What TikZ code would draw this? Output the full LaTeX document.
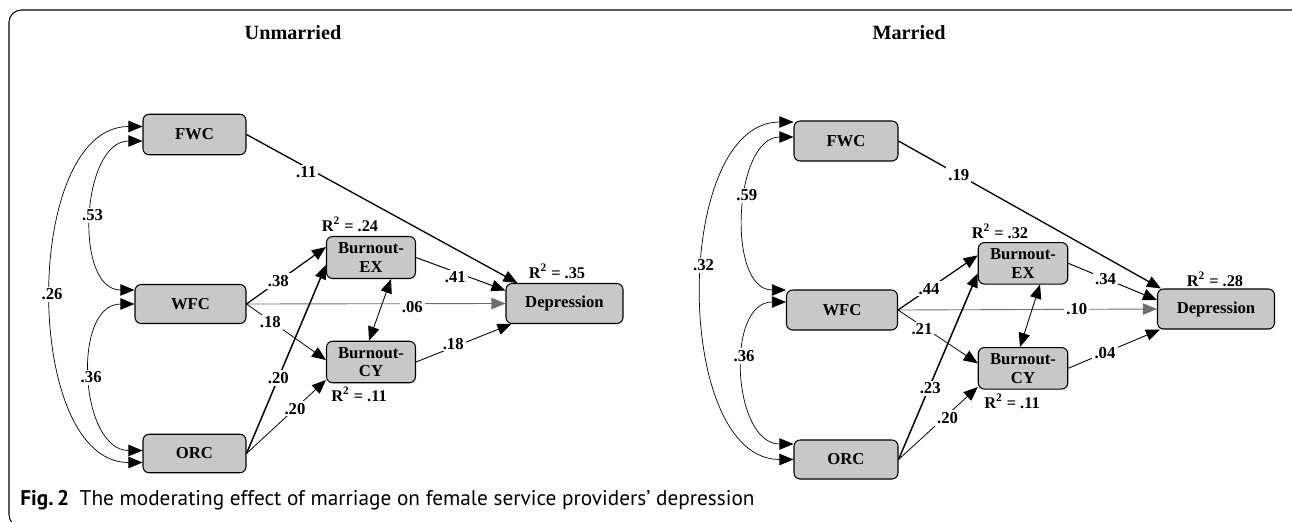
\documentclass[tikz,border=0pt]{standalone}
\usepackage{fontspec}
\setmainfont{Liberation Serif}
\newfontfamily\capfont{PT Sans}
\usetikzlibrary{arrows.meta,calc,positioning}
\definecolor{boxgray}{RGB}{200,200,200}
\definecolor{linegray}{RGB}{110,110,110}

\tikzset{
  varbox/.style={draw, fill=boxgray, rounded corners=3.5pt, line width=0.6pt, inner sep=0pt,
    align=center, minimum height=0.81cm, font=\fontsize{9.5}{10.6}\selectfont\bfseries},
  coef/.style={fill=white, inner sep=1.2pt, font=\fontsize{9.5}{11}\selectfont\bfseries},
  rsq/.style={inner sep=0pt, font=\fontsize{9.3}{11}\selectfont\bfseries},
  cov/.style={<->, line width=0.4pt},
  reg/.style={->, line width=0.55pt}
}

\begin{document}
\begin{tikzpicture}[x=0.02cm, y=-0.02cm, >={Triangle[length=8pt,width=6.5pt]}]
\useasboundingbox (0,0) rectangle (1292,521);

% frame
\draw[line width=0.6pt, rounded corners=7pt] (1330,10) -- (9,10) -- (9,527) -- (40,527);

% titles
\node[font=\fontsize{11.5}{13}\selectfont\bfseries] (titleU) at (293,33) {Unmarried};
\node[font=\fontsize{11.5}{13}\selectfont\bfseries] (titleM) at (909,33) {Married};

% Unmarried boxes
\node[varbox, minimum width=2.06cm] (fwcU) at (194.5,134.5) {FWC};
\node[varbox, minimum width=2.22cm, minimum height=0.78cm] (wfcU) at (190.5,304) {WFC};
\node[varbox, minimum width=2.06cm, minimum height=0.77cm] (orcU) at (194.5,453.5) {ORC};
\node[varbox, minimum width=1.78cm, minimum height=0.84cm] (bexU) at (371,257.5) {Burnout-\\EX};
\node[varbox, minimum width=1.78cm, minimum height=0.83cm] (bcyU) at (371,362) {Burnout-\\CY};
\node[varbox, minimum width=2.34cm, minimum height=0.80cm] (depU) at (564.5,303.5) {Depression};

\node[rsq] (r2exU) at (350,224) {R\textsuperscript{2} = .24};
\node[rsq] (r2cyU) at (359,394) {R\textsuperscript{2} = .11};
\node[rsq] (r2depU) at (557,271) {R\textsuperscript{2} = .35};

% Unmarried covariances
\draw[cov] ($(fwcU.west)+(0,6.5)$) to[out=180,in=180,looseness=1.05]
  node[coef,pos=.5] {.53} ($(wfcU.west)+(0,-14)$);
\draw[cov] ($(fwcU.west)+(0,-8)$) to[out=180,in=180,looseness=.92]
  node[coef,pos=.5] {.26} ($(orcU.west)+(0,9)$);
\draw[cov] (wfcU.west) to[out=180,in=180,looseness=1.1]
  node[coef,pos=.5] {.36} ($(orcU.west)+(0,-3)$);

% Unmarried paths
\draw[reg, line width=0.75pt] (fwcU.east) -- node[coef,pos=.22,yshift=-3pt] {.11} ($(depU.north west)+(12,0)$);
\draw[reg, draw=linegray, line width=0.5pt] (wfcU.east) -- node[coef,pos=.64,yshift=-2pt] {.06} (depU.west);
\draw[reg, line width=0.7pt] (wfcU.east) -- node[coef,pos=.4] {.38} ($(bexU.west)+(0,-10.5)$);
\draw[reg, line width=0.45pt] (wfcU.east) -- node[coef,pos=.3,yshift=-1pt] {.18} ($(bcyU.west)+(0,-2)$);
\draw[reg, line width=0.85pt] (orcU.east) -- node[coef,pos=.4] {.20} ($(bexU.west)+(0,7.5)$);
\draw[reg, line width=0.45pt] (orcU.east) -- node[coef,pos=.61] {.20} ($(bcyU.west)+(0,18)$);
\draw[reg] (bexU.east) -- node[coef,pos=.44,yshift=-3pt] {.41} ($(depU.west)+(0,-13)$);
\draw[reg, line width=0.5pt] (bcyU.east) -- node[coef,pos=.39,yshift=2pt] {.18} ($(depU.south west)+(6,0)$);
\draw[<->, line width=0.5pt] ($(bexU.south)+(20,0)$) -- ($(bcyU.north)+(-2,0)$);

% Married boxes
\node[varbox, minimum width=2.08cm, minimum height=0.80cm] (fwcM) at (846,141) {FWC};
\node[varbox, minimum width=2.22cm, minimum height=0.80cm] (wfcM) at (842,310) {WFC};
\node[varbox, minimum width=2.08cm, minimum height=0.78cm] (orcM) at (846,459.5) {ORC};
\node[varbox, minimum width=1.79cm, minimum height=0.83cm] (bexM) at (1023,263.3) {Burnout-\\EX};
\node[varbox, minimum width=1.79cm, minimum height=0.83cm] (bcyM) at (1023,368.3) {Burnout-\\CY};
\node[varbox, minimum width=2.34cm, minimum height=0.80cm] (depM) at (1216,309) {Depression};

\node[rsq] (r2exM) at (1000,231) {R\textsuperscript{2} = .32};
\node[rsq] (r2cyM) at (1012,401) {R\textsuperscript{2} = .11};
\node[rsq] (r2depM) at (1215,279) {R\textsuperscript{2} = .28};

% Married covariances
\draw[cov] ($(fwcM.west)+(0,-4)$) to[out=180,in=180,looseness=1]
  node[coef,pos=.42] {.59} ($(wfcM.west)+(0,-20)$);
\draw[cov] ($(fwcM.west)+(0,-19)$) to[out=180,in=180,looseness=.92]
  node[coef,pos=.45] {.32} (orcM.west);
\draw[cov] ($(wfcM.west)+(0,-8)$) to[out=180,in=180,looseness=1.1]
  node[coef,pos=.42] {.36} ($(orcM.west)+(0,-15.5)$);

% Married paths
\draw[reg, line width=0.75pt] (fwcM.east) -- node[coef,pos=.23] {.19} ($(depM.north west)+(4,0)$);
\draw[reg, draw=linegray, line width=0.5pt] (wfcM.east) -- node[coef,pos=.69] {.10} (depM.west);
\draw[reg, line width=0.7pt] (wfcM.east) -- node[coef,pos=.39] {.44} ($(bexM.west)+(0,-8)$);
\draw[reg, line width=0.45pt] (wfcM.east) -- node[coef,pos=.3,yshift=-2pt] {.21} ($(bcyM.west)+(0,-5)$);
\draw[reg, line width=0.85pt] (orcM.east) -- node[coef,pos=.4,yshift=-2pt] {.23} ($(bexM.west)+(0,10)$);
\draw[reg, line width=0.45pt] (orcM.east) -- node[coef,pos=.62,yshift=-2pt] {.20} ($(bcyM.west)+(0,18.7)$);
\draw[reg] (bexM.east) -- node[coef,pos=.42] {.34} ($(depM.west)+(0,-9)$);
\draw[reg, line width=0.5pt] (bcyM.east) -- node[coef,pos=.4] {.04} ($(depM.south west)+(3,0)$);
\draw[<->, line width=0.5pt] ($(bexM.south)+(17,0)$) -- ($(bcyM.north)+(-3,0)$);

% caption
\node[anchor=base west, inner sep=0pt, font=\capfont\fontsize{12.1}{14}\selectfont] (caption) at (20,505)
  {\textbf{Fig.\,2}\enspace The moderating effect of marriage on female service providers’ depression};
\end{tikzpicture}
\end{document}
